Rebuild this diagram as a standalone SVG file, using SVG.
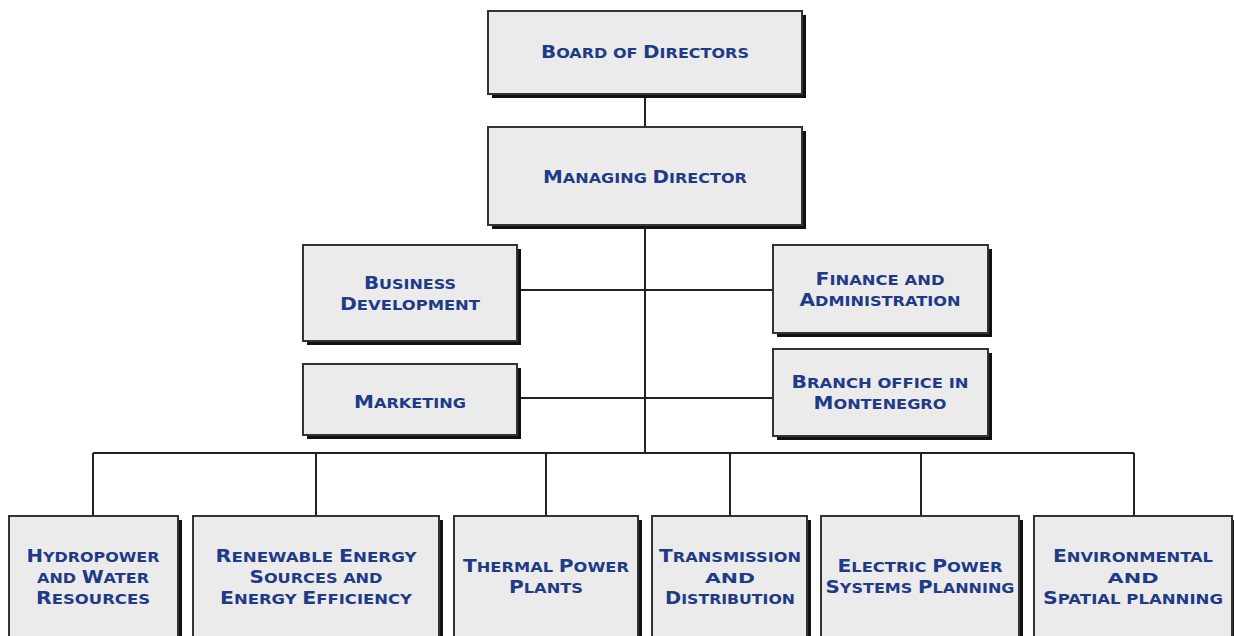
<svg xmlns="http://www.w3.org/2000/svg" width="1234" height="636" viewBox="0 0 1234 636">
<style>
.sh{fill:#111;}
.bx{fill:#ebebeb;stroke:#333;stroke-width:2;}
.t{font-family:"DejaVu Sans",sans-serif;font-weight:bold;font-size:14.5px;fill:#1f3a87;text-anchor:middle;}
.L{font-size:18px;}
.c{stroke:#222;stroke-width:2;fill:none;}
</style>
<rect width="1234" height="636" fill="#fff"/>
<g id="connectors">
<path class="c" d="M645 94V127M645 225V453M517 290H773M517 398H773M93 453H1134M93 453V516M316 453V516M546 453V516M730 453V516M921 453V516M1134 453V516"/>
</g>
<g id="board"><rect class="sh" x="492" y="15" width="314" height="83"/><rect class="bx" x="488" y="11" width="314" height="83"/><text class="t" x="645" y="58" textLength="208" lengthAdjust="spacingAndGlyphs"><tspan class="L">B</tspan>OARD OF <tspan class="L">D</tspan>IRECTORS</text></g>
<g id="md"><rect class="sh" x="492" y="131" width="314" height="98"/><rect class="bx" x="488" y="127" width="314" height="98"/><text class="t" x="645" y="183" textLength="204" lengthAdjust="spacingAndGlyphs"><tspan class="L">M</tspan>ANAGING <tspan class="L">D</tspan>IRECTOR</text></g>
<g id="bd"><rect class="sh" x="307" y="249" width="214" height="96"/><rect class="bx" x="303" y="245" width="214" height="96"/><text class="t" x="410" y="289" textLength="92" lengthAdjust="spacingAndGlyphs"><tspan class="L">B</tspan>USINESS</text><text class="t" x="410" y="310" textLength="140" lengthAdjust="spacingAndGlyphs"><tspan class="L">D</tspan>EVELOPMENT</text></g>
<g id="fa"><rect class="sh" x="777" y="249" width="215" height="88"/><rect class="bx" x="773" y="245" width="215" height="88"/><text class="t" x="880" y="285" textLength="129" lengthAdjust="spacingAndGlyphs"><tspan class="L">F</tspan>INANCE AND</text><text class="t" x="880" y="306" textLength="161" lengthAdjust="spacingAndGlyphs"><tspan class="L">A</tspan>DMINISTRATION</text></g>
<g id="mk"><rect class="sh" x="307" y="368" width="214" height="71"/><rect class="bx" x="303" y="364" width="214" height="71"/><text class="t" x="410" y="408" textLength="112" lengthAdjust="spacingAndGlyphs"><tspan class="L">M</tspan>ARKETING</text></g>
<g id="bo"><rect class="sh" x="777" y="353" width="215" height="87"/><rect class="bx" x="773" y="349" width="215" height="87"/><text class="t" x="880" y="388" textLength="177" lengthAdjust="spacingAndGlyphs"><tspan class="L">B</tspan>RANCH OFFICE IN</text><text class="t" x="880" y="409" textLength="133" lengthAdjust="spacingAndGlyphs"><tspan class="L">M</tspan>ONTENEGRO</text></g>
<g id="hy"><rect class="sh" x="13" y="520" width="169" height="130"/><rect class="bx" x="9" y="516" width="169" height="130"/><text class="t" x="93" y="562" textLength="133" lengthAdjust="spacingAndGlyphs"><tspan class="L">H</tspan>YDROPOWER</text><text class="t" x="93" y="583" textLength="112" lengthAdjust="spacingAndGlyphs">AND <tspan class="L">W</tspan>ATER</text><text class="t" x="93" y="604" textLength="114" lengthAdjust="spacingAndGlyphs"><tspan class="L">R</tspan>ESOURCES</text></g>
<g id="re"><rect class="sh" x="197" y="520" width="246" height="130"/><rect class="bx" x="193" y="516" width="246" height="130"/><text class="t" x="316" y="562" textLength="201" lengthAdjust="spacingAndGlyphs"><tspan class="L">R</tspan>ENEWABLE <tspan class="L">E</tspan>NERGY</text><text class="t" x="316" y="583" textLength="133" lengthAdjust="spacingAndGlyphs"><tspan class="L">S</tspan>OURCES AND</text><text class="t" x="316" y="604" textLength="192" lengthAdjust="spacingAndGlyphs"><tspan class="L">E</tspan>NERGY <tspan class="L">E</tspan>FFICIENCY</text></g>
<g id="th"><rect class="sh" x="458" y="520" width="184" height="130"/><rect class="bx" x="454" y="516" width="184" height="130"/><text class="t" x="546" y="572" textLength="166" lengthAdjust="spacingAndGlyphs"><tspan class="L">T</tspan>HERMAL <tspan class="L">P</tspan>OWER</text><text class="t" x="546" y="593" textLength="74" lengthAdjust="spacingAndGlyphs"><tspan class="L">P</tspan>LANTS</text></g>
<g id="tr"><rect class="sh" x="656" y="520" width="155" height="130"/><rect class="bx" x="652" y="516" width="155" height="130"/><text class="t" x="730" y="562" textLength="142" lengthAdjust="spacingAndGlyphs"><tspan class="L">T</tspan>RANSMISSION</text><text class="t" x="730" y="583" textLength="50" lengthAdjust="spacingAndGlyphs">AND</text><text class="t" x="730" y="604" textLength="130" lengthAdjust="spacingAndGlyphs"><tspan class="L">D</tspan>ISTRIBUTION</text></g>
<g id="ep"><rect class="sh" x="825" y="520" width="198" height="130"/><rect class="bx" x="821" y="516" width="198" height="130"/><text class="t" x="920" y="572" textLength="165" lengthAdjust="spacingAndGlyphs"><tspan class="L">E</tspan>LECTRIC <tspan class="L">P</tspan>OWER</text><text class="t" x="920" y="593" textLength="189" lengthAdjust="spacingAndGlyphs"><tspan class="L">S</tspan>YSTEMS <tspan class="L">P</tspan>LANNING</text></g>
<g id="en"><rect class="sh" x="1038" y="520" width="198" height="130"/><rect class="bx" x="1034" y="516" width="198" height="130"/><text class="t" x="1133" y="562" textLength="160" lengthAdjust="spacingAndGlyphs"><tspan class="L">E</tspan>NVIRONMENTAL</text><text class="t" x="1133" y="583" textLength="51" lengthAdjust="spacingAndGlyphs">AND</text><text class="t" x="1133" y="604" textLength="180" lengthAdjust="spacingAndGlyphs"><tspan class="L">S</tspan>PATIAL PLANNING</text></g>
</svg>
